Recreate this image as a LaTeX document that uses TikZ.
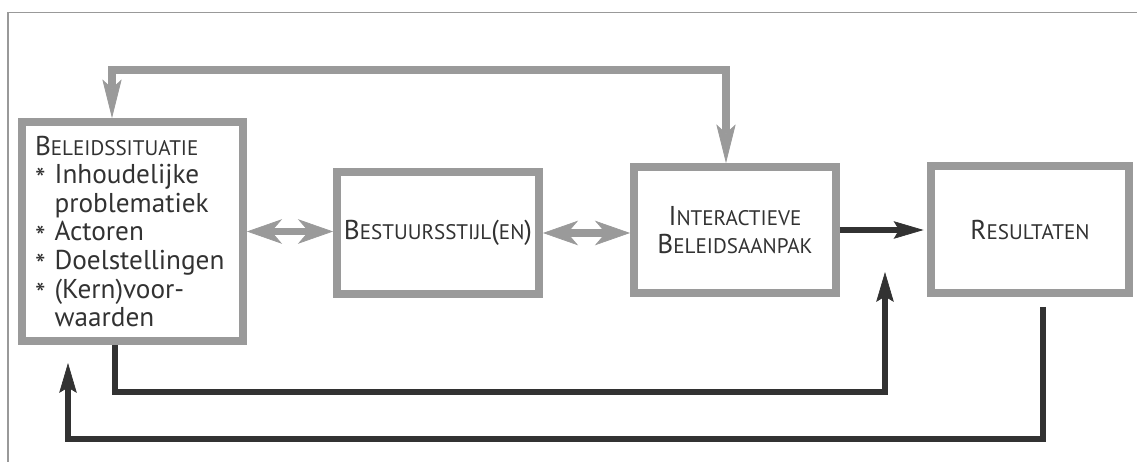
\documentclass[tikz,border=0pt]{standalone}
\usepackage{fontspec}
\setmainfont{PT Sans}
\usetikzlibrary{arrows.meta,positioning}
\definecolor{rand}{HTML}{9A9A9A}
\definecolor{donker}{HTML}{323232}
\newcommand{\kl}[1]{{\fontsize{12}{16.3}\selectfont #1}}
\newcommand{\ster}{\raisebox{-0.45ex}{\fontsize{17}{16.3}\selectfont *}}
\tikzset{
  blok/.style={draw=rand, line width=4.5pt, text=donker, inner sep=0pt,
    font=\fontsize{15.5}{16.3}\selectfont, align=center},
  grijs/.style={draw=rand, line width=4.5pt,
    {Stealth[length=22pt,width=11pt,inset=5pt,line width=0.4pt]}-{Stealth[length=22pt,width=11pt,inset=5pt,line width=0.4pt]}},
  wissel/.style={draw=rand, line width=4pt,
    {Stealth[length=20pt,width=14pt,inset=6pt,line width=0.4pt]}-{Stealth[length=20pt,width=14pt,inset=6pt,line width=0.4pt]}},
  terug/.style={draw=donker, line width=3pt,
    -{Stealth[length=17pt,width=10pt,inset=3pt,line width=0.4pt]}},
}
\begin{document}
\begin{tikzpicture}[x=0.02cm, y=-0.02cm]
  \useasboundingbox (0,0) rectangle (1137,462);
  \draw [gray!80, line width=0.8pt] (8,462) -- (8,12.5) -- (1137,12.5);

  \node [blok, minimum width=4.42cm, minimum height=4.38cm, text width=3.9cm, align=left] (situatie) at (132.5,231.5)
    {B\kl{ELEIDSSITUATIE}\\
     \ster{} Inhoudelijke\\
     \hphantom{\ster{} }problematiek\\
     \ster{} Actoren\\
     \ster{} Doelstellingen\\
     \ster{} (Kern)voor-\\
     \hphantom{\ster{} }waarden};
  \node [blok, minimum width=4.04cm, minimum height=2.44cm] (stijl) at (438,233) {B\kl{ESTUURSSTIJL}(\kl{EN})};
  \node [blok, minimum width=4.04cm, minimum height=2.52cm] (aanpak) at (735,230) {I\kl{NTERACTIEVE}\\B\kl{ELEIDSAANPAK}};
  \node [blok, minimum width=3.96cm, minimum height=2.54cm] (resultaat) at (1030,229.5) {R\kl{ESULTATEN}};

  \coordinate (terug1) at (885,272);
  \coordinate (terug2) at (68,363);
  \coordinate (hoek2) at (68,439);

  \draw [grijs] ([xshift=-0.41cm]situatie.north) -- ++(0,-48) -| ([xshift=-0.18cm]aanpak.north);
  \draw [wissel] (situatie.east) -- (situatie.east -| stijl.west);
  \draw [wissel] (stijl.east) -- (stijl.east -| aanpak.west);
  \draw [terug, line width=3.4pt, shorten >=2pt] (aanpak.east) -- (aanpak.east -| resultaat.west);

  \draw [terug] ([xshift=-0.35cm]situatie.south) |- ++(0,47) -| (terug1);
  \draw [terug] ([xshift=0.26cm, yshift=-0.2cm]resultaat.south) |- (hoek2) -- (terug2);
\end{tikzpicture}
\end{document}
